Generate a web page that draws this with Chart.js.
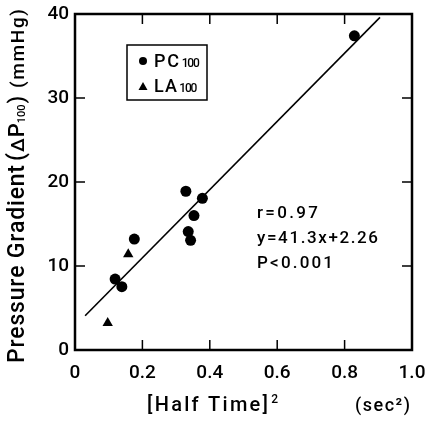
<!DOCTYPE html>
<html>
<head>
<meta charset="utf-8">
<script src="https://cdn.jsdelivr.net/npm/chart.js@4"></script>
<style>
  html, body { margin: 0; padding: 0; background: #fff; }
  #chart { display: block; }
</style>
</head>
<body>
<canvas id="chart" width="426" height="422"></canvas>
<script>
// --- Data ---
const pcX = [0.119, 0.139, 0.176, 0.329, 0.336, 0.343, 0.353, 0.378, 0.829];
const pcY = [8.45, 7.54, 13.2, 18.9, 14.1, 13.06, 16.0, 18.06, 37.4];
const laX = [0.097, 0.158];
const laY = [3.2, 11.4];
// regression line ends as drawn
const fitX = [0.030, 0.905];
const fitY = [4.08, 39.6];

const xTickVals = [0, 0.2, 0.4, 0.6, 0.8, 1.0];
const xTickLabels = ['0', '0.2', '0.4', '0.6', '0.8', '1.0'];
const yTickVals = [0, 10, 20, 30, 40];
const yTickLabels = ['0', '10', '20', '30', '40'];

const statLines = ['r=0.97', 'y=41.3x+2.26', 'P<0.001'];
const legendNames = ['PC', 'LA'];
const legendSub = '100';

const FONT = "Roboto, 'Liberation Sans', Arial, sans-serif";
const W = 500;

function pts(xs, ys) {
    return xs.map((x, i) => ({ x: x, y: ys[i] }));
}

function f(size) {
    return `${W} ${size}px ${FONT}`;
}

// draw text char by char, spreading it over a given width
function drawFit(ctx, text, x, y, width) {
    const chars = [...text];
    const w = chars.reduce((s, c) => s + ctx.measureText(c).width, 0);
    const gap = chars.length > 1 ? (width - w) / (chars.length - 1) : 0;
    let cx = x;
    chars.forEach(c => {
        ctx.fillText(c, cx, y);
        cx += ctx.measureText(c).width + gap;
    });
    return cx;
}

// --- Frame, inward ticks, legend, titles ---
const decorations = {
    id: 'decorations',
    afterDraw(chart) {
        const ctx = chart.ctx;
        const a = chart.chartArea;
        const xs = chart.scales.x, ys = chart.scales.y;
        ctx.save();
        ctx.strokeStyle = '#000';
        ctx.fillStyle = '#000';

        // frame
        ctx.lineWidth = 2.5;
        ctx.strokeRect(a.left, a.top, a.right - a.left, a.bottom - a.top);

        // inward ticks on all four sides
        ctx.lineWidth = 1.5;
        ctx.beginPath();
        xTickVals.slice(1, -1).forEach(v => {
            const px = xs.getPixelForValue(v);
            ctx.moveTo(px, a.bottom); ctx.lineTo(px, a.bottom - 10);
            ctx.moveTo(px, a.top); ctx.lineTo(px, a.top + 10);
        });
        yTickVals.slice(1, -1).forEach(v => {
            const py = ys.getPixelForValue(v);
            ctx.moveTo(a.left, py); ctx.lineTo(a.left + 10, py);
            ctx.moveTo(a.right, py); ctx.lineTo(a.right - 10, py);
        });
        ctx.stroke();

        // legend box
        ctx.lineWidth = 1.5;
        ctx.strokeRect(127, 45, 80, 55);
        ctx.beginPath();
        ctx.arc(143, 61, 4, 0, Math.PI * 2);
        ctx.fill();
        ctx.beginPath();
        ctx.moveTo(143, 82); ctx.lineTo(147.5, 90); ctx.lineTo(138.5, 90);
        ctx.closePath();
        ctx.fill();
        ctx.textAlign = 'left';
        ctx.textBaseline = 'alphabetic';
        [67, 92].forEach((base, i) => {
            ctx.font = f(18);
            const end = drawFit(ctx, legendNames[i], 154, base, i === 0 ? 25 : 23);
            ctx.font = f(12);
            drawFit(ctx, legendSub, end + 1, base, 18);
        });

        // statistics
        ctx.font = f(17);
        drawFit(ctx, statLines[0], 257, 218, 61);
        drawFit(ctx, statLines[1], 257, 243, 121);
        drawFit(ctx, statLines[2], 257, 268, 76);

        // x title
        ctx.font = f(20);
        const xEnd = drawFit(ctx, '[Half Time]', 147, 411, 121);
        ctx.font = f(12);
        ctx.fillText('2', xEnd + 1, 403);
        ctx.font = f(18);
        drawFit(ctx, '(sec²)', 355, 411, 55);

        // y title, rotated
        ctx.translate(24, 363);
        ctx.rotate(-Math.PI / 2);
        ctx.font = f(23);
        drawFit(ctx, 'Pressure Gradient', 0, 0, 198);
        let p = 202;
        ctx.fillText('(', p, 0); p += ctx.measureText('(').width + 1;
        ctx.font = f(19);
        ctx.fillText('Δ', p, 0); p += ctx.measureText('Δ').width + 1;
        ctx.font = f(22);
        ctx.fillText('P', p, 0); p += ctx.measureText('P').width;
        ctx.font = f(11);
        ctx.fillText('100', p, 1); p += ctx.measureText('100').width + 1;
        ctx.font = f(22);
        ctx.fillText(')', p, 0);
        ctx.font = f(19);
        drawFit(ctx, '(mmHg)', 275, 0, 79);

        ctx.restore();
    }
};

const chart = new Chart(document.getElementById('chart'), {
    type: 'scatter',
    data: {
        datasets: [
            {
                label: 'PC100',
                data: pts(pcX, pcY),
                pointStyle: 'circle',
                pointRadius: 5.5,
                backgroundColor: '#000',
                borderColor: '#000',
                borderWidth: 0
            },
            {
                label: 'LA100',
                data: pts(laX, laY),
                pointStyle: 'triangle',
                pointRadius: 6,
                backgroundColor: '#000',
                borderColor: '#000',
                borderWidth: 0
            },
            {
                label: 'fit',
                type: 'line',
                data: pts(fitX, fitY),
                showLine: true,
                pointRadius: 0,
                borderColor: '#000',
                borderWidth: 1.6,
                fill: false
            }
        ]
    },
    options: {
        responsive: false,
        devicePixelRatio: 1,
        animation: false,
        layout: { padding: { top: 14, right: 14, left: 0, bottom: 0 } },
        plugins: {
            legend: { display: false },
            tooltip: { enabled: false }
        },
        scales: {
            x: {
                type: 'linear',
                min: 0,
                max: 1,
                grid: { display: false, drawTicks: false },
                border: { display: false },
                afterBuildTicks: s => { s.ticks = xTickVals.map(v => ({ value: v })); },
                afterFit: s => { s.height = 72; s.paddingLeft = 0; s.paddingRight = 0; },
                ticks: {
                    padding: 12,
                    color: '#000',
                    font: { family: FONT, size: 19, weight: W },
                    maxRotation: 0,
                    callback: (v, i) => xTickLabels[i]
                }
            },
            y: {
                type: 'linear',
                min: 0,
                max: 40,
                grid: { display: false, drawTicks: false },
                border: { display: false },
                afterBuildTicks: s => { s.ticks = yTickVals.map(v => ({ value: v })); },
                afterFit: s => { s.width = 75; s.paddingTop = 0; s.paddingBottom = 0; },
                ticks: {
                    padding: 6,
                    color: '#000',
                    font: { family: FONT, size: 19, weight: W },
                    callback: (v, i) => yTickLabels[i]
                }
            }
        }
    },
    plugins: [decorations]
});
</script>
</body>
</html>
